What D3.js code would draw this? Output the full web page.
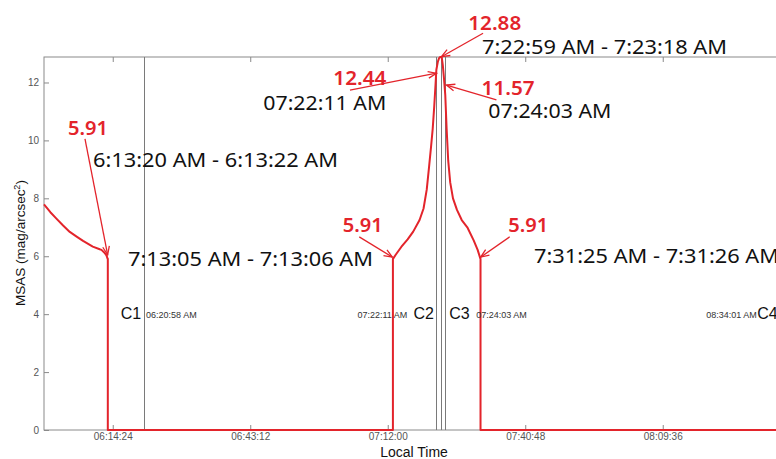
<!DOCTYPE html>
<html>
<head>
  <meta charset="utf-8">
  <title>MSAS vs Local Time</title>
  <script src="https://d3js.org/d3.v7.min.js"></script>
  <style>
    body { margin: 0; background: #fff; }
    svg { display: block; }
  </style>
</head>
<body>
  <div id="chart"></div>

  <script>
    // MSAS series (red curve)
    const times = [
      "06:00:00", "06:01:20", "06:02:36", "06:04:00", "06:05:24", "06:06:50", "06:08:11",
      "06:10:13", "06:11:40", "06:12:02", "06:12:40", "06:13:05", "06:13:20", "06:13:22",
      "06:13:22",
      "07:13:05", "07:13:05", "07:13:06", "07:13:40", "07:14:50", "07:16:10", "07:17:20",
      "07:18:40", "07:19:30", "07:20:10", "07:20:40", "07:21:05", "07:21:25", "07:21:45",
      "07:22:00", "07:22:11", "07:22:30", "07:22:45", "07:22:59", "07:23:18", "07:23:32",
      "07:23:45", "07:24:03", "07:24:20", "07:24:40", "07:25:05", "07:25:40", "07:26:30",
      "07:27:30", "07:28:40", "07:30:00", "07:30:50", "07:31:25", "07:31:26", "07:31:26",
      "08:35:00"
    ];
    const msas = [
      7.79, 7.52, 7.30, 7.06, 6.84, 6.68, 6.53,
      6.33, 6.24, 6.22, 6.12, 6.03, 5.91, 5.91,
      0,
      0, 5.91, 5.91, 6.05, 6.32, 6.58, 6.85,
      7.25, 7.65, 8.30, 9.10, 9.80, 10.40, 11.20,
      11.90, 12.44, 12.72, 12.84, 12.88, 12.88, 12.60,
      12.20, 11.57, 10.40, 9.30, 8.55, 8.00, 7.60,
      7.25, 7.00, 6.55, 6.22, 5.91, 5.91, 0,
      0
    ];

    // gray marker lines
    const markerTimes = ["06:20:58", "07:22:11", "07:23:12", "07:24:03", "08:34:01"];
    const markerNames = ["C1", "C2", "", "C3", "C4"];
    const markerStamps = ["06:20:58 AM", "07:22:11 AM", "", "07:24:03 AM", "08:34:01 AM"];

    // axes
    const xDomain = ["06:00:00", "08:35:00"];
    const xTickLabels = ["06:14:24", "06:43:12", "07:12:00", "07:40:48", "08:09:36"];
    const yMax = 12.88;
    const yTicks = [0, 2, 4, 6, 8, 10, 12];

    // annotations: [text, time, value]
    const blackNotes = [
      ["6:13:20 AM - 6:13:22 AM", "06:10:16", 9.08],
      ["7:13:05 AM - 7:13:06 AM", "06:17:36", 5.66],
      ["7:31:25 AM - 7:31:26 AM", "07:42:38", 5.78],
      ["7:22:59 AM - 7:23:18 AM", "07:31:45", 13.0],
      ["07:22:11 AM", "06:45:56", 11.05],
      ["07:24:03 AM", "07:33:04", 10.76]
    ];
    const redNotes = [
      ["5.91", "06:05:02", 10.19],
      ["5.91", "07:02:34", 6.83],
      ["5.91", "07:37:15", 6.83],
      ["12.88", "07:28:52", 13.81],
      ["12.44", "07:00:36", 11.91],
      ["11.57", "07:31:40", 11.58]
    ];
    // arrows: [tail time, tail value, head time, head value]
    const arrows = [
      ["06:08:35", 10.05, "06:13:20", 6.05],
      ["07:06:02", 6.67, "07:12:58", 5.97],
      ["07:37:33", 6.67, "07:31:28", 5.97],
      ["07:31:58", 13.70, "07:23:15", 12.89],
      ["07:04:05", 11.74, "07:22:12", 12.32],
      ["07:34:46", 11.40, "07:24:18", 11.91]
    ];

    const width = 776;
    const height = 459;
    const margin = { left: 44, right: 784, top: 57, bottom: 430 };
    const red = '#e3242b';
    const axisGray = '#8a8a8a';
    const narrow = '"Liberation Sans Narrow", "Arial Narrow", "Liberation Sans", Arial, sans-serif';
    const noteFont = '"Noto Sans", "Open Sans", sans-serif';

    const parse = d3.timeParse('%H:%M:%S');

    const svg = d3.select('#chart')
      .append('svg')
      .attr('width', width)
      .attr('height', height);

    const x = d3.scaleTime()
      .domain(xDomain.map(parse))
      .range([margin.left, margin.right]);

    const y = d3.scaleLinear()
      .domain([0, yMax])
      .range([margin.bottom, margin.top]);

    // frame
    svg.append('rect')
      .attr('x', margin.left)
      .attr('y', margin.top)
      .attr('width', margin.right - margin.left)
      .attr('height', margin.bottom - margin.top)
      .attr('fill', 'none')
      .attr('stroke', axisGray);

    const xTicks = xTickLabels.map(parse);

    // bottom axis, ticks inside
    const xAxis = svg.append('g')
      .attr('transform', `translate(0, ${margin.bottom})`)
      .call(d3.axisBottom(x).tickValues(xTicks).tickSize(-5).tickPadding(3)
        .tickFormat(d3.timeFormat('%H:%M:%S')));
    // top ticks
    const xTop = svg.append('g')
      .attr('transform', `translate(0, ${margin.top})`)
      .call(d3.axisTop(x).tickValues(xTicks).tickSize(-5).tickFormat(''));

    const yAxis = svg.append('g')
      .attr('transform', `translate(${margin.left}, 0)`)
      .call(d3.axisLeft(y).tickValues(yTicks).tickSize(-5).tickPadding(5));

    [xAxis, xTop, yAxis].forEach(g => {
      g.select('.domain').remove();
      g.selectAll('.tick line').attr('stroke', axisGray);
      g.selectAll('.tick text')
        .attr('fill', '#555')
        .style('font-family', narrow)
        .style('font-size', '10px');
    });

    // marker lines
    markerTimes.forEach(t => {
      const mx = Math.round(x(parse(t))) + 0.5;
      svg.append('line')
        .attr('x1', mx).attr('x2', mx)
        .attr('y1', margin.top).attr('y2', margin.bottom)
        .attr('stroke', '#7a7a7a')
        .attr('stroke-width', 1);
    });

    // red series
    const pts = times.map((t, i) => [parse(t), msas[i]]);
    svg.append('path')
      .datum(pts)
      .attr('fill', 'none')
      .attr('stroke', red)
      .attr('stroke-width', 2)
      .attr('stroke-linejoin', 'round')
      .attr('d', d3.line()
        .x(d => x(d[0]))
        .y(d => y(d[1])));

    // marker labels
    const ly = y(4);
    const small = svg.append('g')
      .style('font-family', '"Liberation Sans", Arial, sans-serif')
      .attr('dominant-baseline', 'middle');
    function name(txt, px, anchor) {
      small.append('text').attr('x', px).attr('y', ly + 1)
        .attr('text-anchor', anchor).style('font-size', '16px')
        .attr('fill', '#111').text(txt);
    }
    function stamp(txt, px, anchor) {
      small.append('text').attr('x', px).attr('y', ly + 1)
        .attr('text-anchor', anchor).style('font-size', '9px')
        .attr('fill', '#333').text(txt);
    }
    const mxs = markerTimes.map(t => x(parse(t)));
    name(markerNames[0], mxs[0] - 3, 'end');
    stamp(markerStamps[0], mxs[0] + 2, 'start');
    name(markerNames[1], mxs[1] - 2.5, 'end');
    stamp(markerStamps[1], mxs[1] - 29, 'end');
    name(markerNames[3], mxs[3] + 4, 'start');
    stamp(markerStamps[3], mxs[3] + 31, 'start');
    stamp(markerStamps[4], mxs[4] - 22.5, 'end');
    name(markerNames[4], mxs[4] - 22, 'start');

    // annotation arrows
    svg.append('g')
      .selectAll('g')
      .data(arrows)
      .join('g')
      .each(function(a) {
        const x0 = x(parse(a[0])), y0 = y(a[1]);
        const x1 = x(parse(a[2])), y1 = y(a[3]);
        const ang = Math.atan2(y1 - y0, x1 - x0);
        const L = 9, spread = 0.38;
        const g = d3.select(this)
          .attr('stroke', red).attr('stroke-width', 1.3).attr('fill', 'none');
        g.append('line').attr('x1', x0).attr('y1', y0).attr('x2', x1).attr('y2', y1);
        g.append('path').attr('d',
          `M${x1 - L * Math.cos(ang - spread)},${y1 - L * Math.sin(ang - spread)}` +
          `L${x1},${y1}` +
          `L${x1 - L * Math.cos(ang + spread)},${y1 - L * Math.sin(ang + spread)}`);
      });

    // annotation texts
    svg.append('g')
      .selectAll('text')
      .data(blackNotes)
      .join('text')
      .attr('x', d => x(parse(d[1])))
      .attr('y', d => y(d[2]))
      .attr('fill', '#111')
      .style('font-family', noteFont)
      .style('font-size', '20px')
      .attr('textLength', d => d[0].length > 12 ? 245 : 123)
      .attr('lengthAdjust', 'spacingAndGlyphs')
      .text(d => d[0]);

    svg.append('g')
      .selectAll('text')
      .data(redNotes)
      .join('text')
      .attr('x', d => x(parse(d[1])))
      .attr('y', d => y(d[2]))
      .attr('fill', red)
      .style('font-family', noteFont)
      .style('font-size', '20px')
      .style('font-weight', '600')
      .attr('textLength', d => d[0].length > 4 ? 53 : 40)
      .attr('lengthAdjust', 'spacingAndGlyphs')
      .text(d => d[0]);

    // axis titles
    svg.append('text')
      .attr('x', (margin.left + margin.right) / 2)
      .attr('y', 457)
      .attr('text-anchor', 'middle')
      .attr('fill', '#111')
      .style('font-family', narrow)
      .style('font-size', '14px')
      .text('Local Time');

    const yt = svg.append('text')
      .attr('transform', `translate(25, 243) rotate(-90)`)
      .attr('text-anchor', 'middle')
      .attr('fill', '#111')
      .style('font-family', '"Liberation Sans", Arial, sans-serif')
      .style('font-size', '13.5px');
    yt.append('tspan').text('MSAS (mag/arcsec');
    yt.append('tspan').attr('baseline-shift', 'super').style('font-size', '9px').text('2');
    yt.append('tspan').text(')');
  </script>
</body>
</html>
